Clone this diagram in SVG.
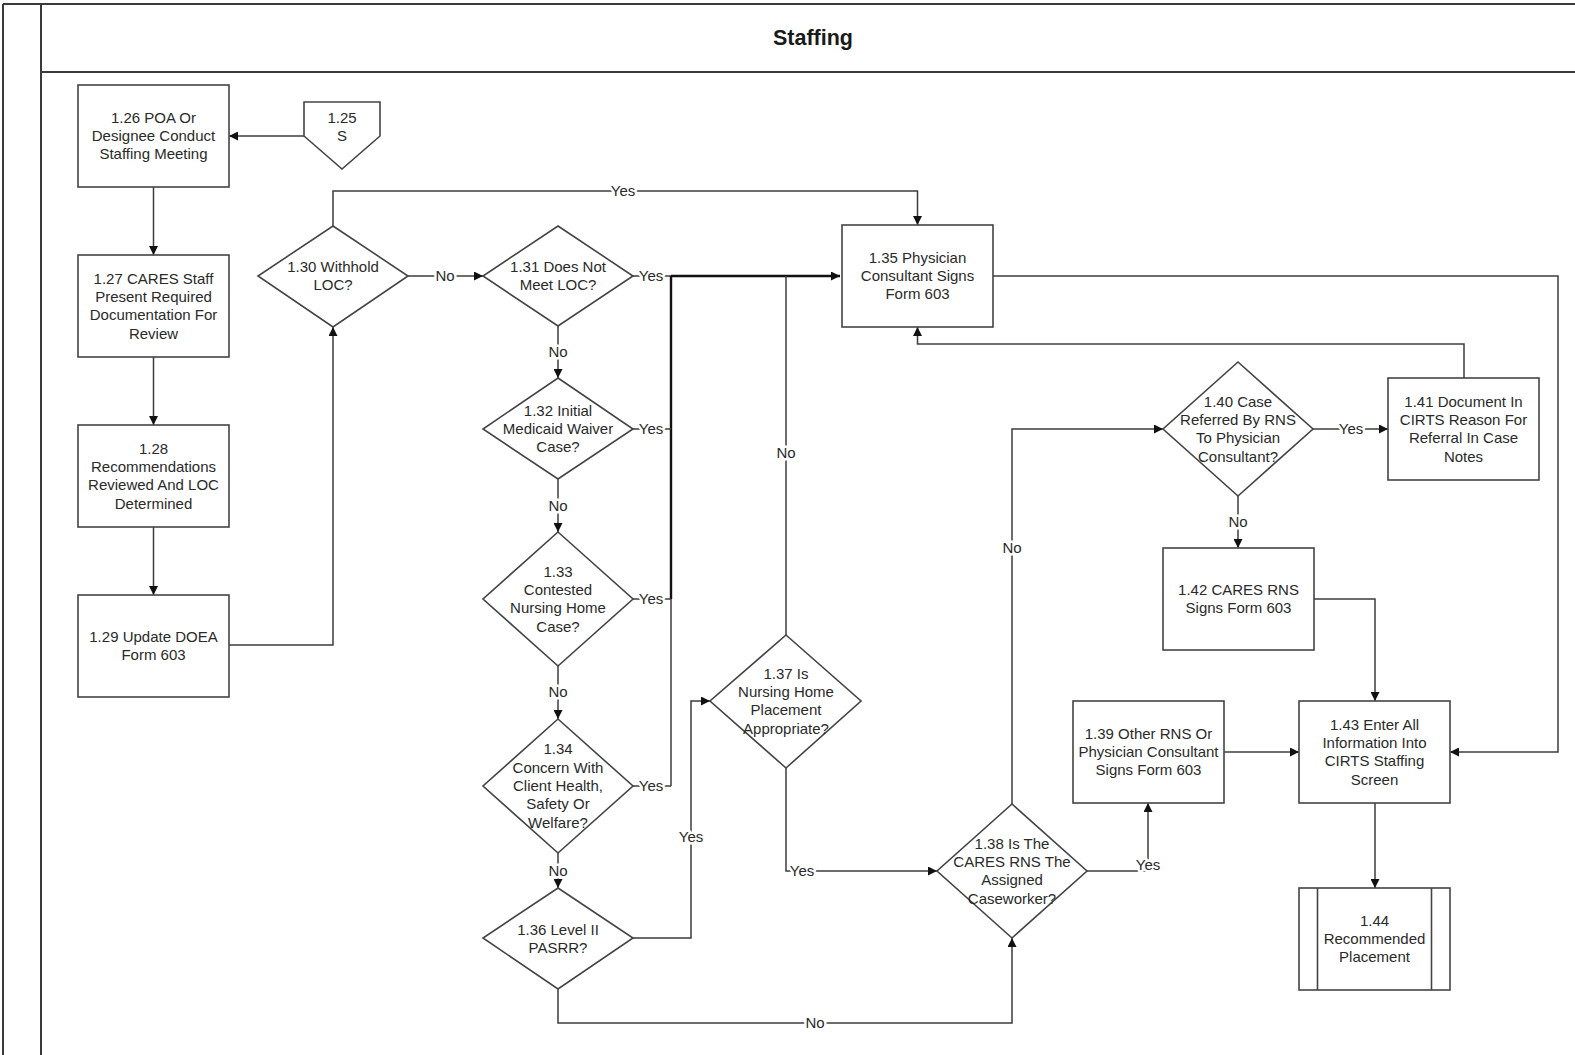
<svg xmlns="http://www.w3.org/2000/svg" width="1575" height="1055" viewBox="0 0 1575 1055">
<style>
.frame{fill:none;stroke:#3a3a3a;stroke-width:2}
.box{fill:#fff;stroke:#444;stroke-width:1.6}
.t{font-family:"Liberation Sans",Arial,sans-serif;font-size:15px;fill:#2a2a2a;text-anchor:middle}
.title{font-family:"Liberation Sans",Arial,sans-serif;font-size:21.5px;font-weight:bold;fill:#1a1a1a;text-anchor:middle}
.c{fill:none;stroke:#3c3c3c;stroke-width:1.5}
.ck{fill:none;stroke:#111;stroke-width:2.4}
.lbl{font-family:"Liberation Sans",Arial,sans-serif;font-size:15px;fill:#2a2a2a;text-anchor:middle;stroke:#fff;stroke-width:5;paint-order:stroke;stroke-linejoin:round}
</style>
<defs>
<marker id="arr" viewBox="0 0 10 10" refX="10" refY="5" markerWidth="9" markerHeight="9" markerUnits="userSpaceOnUse" orient="auto">
<path d="M0,0 L10,5 L0,10 z" fill="#111"/>
</marker>
</defs>
<rect width="1575" height="1055" fill="#fff"/>
<g id="frame">
<line class="frame" x1="3" y1="4" x2="1575" y2="4"/>
<line class="frame" x1="3" y1="4" x2="3" y2="1055"/>
<line class="frame" x1="41" y1="4" x2="41" y2="1055"/>
<line class="frame" x1="41" y1="72" x2="1575" y2="72"/>
<text class="title" x="813" y="45">Staffing</text>
</g>
<g id="connectors">
<path class="c" d="M304,136 L229,136" marker-end="url(#arr)"/>
<path class="c" d="M153.5,187 L153.5,255" marker-end="url(#arr)"/>
<path class="c" d="M153.5,357 L153.5,425" marker-end="url(#arr)"/>
<path class="c" d="M153.5,527 L153.5,595" marker-end="url(#arr)"/>
<path class="c" d="M229,645 L333,645 L333,327" marker-end="url(#arr)"/>
<path class="c" d="M407,276 L483,276" marker-end="url(#arr)"/>
<path class="c" d="M333,226 L333,191 L917.5,191 L917.5,225" marker-end="url(#arr)"/>
<path class="c" d="M633,276 L671,276"/>
<path class="ck" d="M671,276 L840,276" marker-end="url(#arr)"/>
<path class="ck" d="M671,276 L671,599"/>
<path class="c" d="M671,599 L671,786"/>
<path class="c" d="M633,429 L671,429"/>
<path class="c" d="M633,599 L671,599"/>
<path class="c" d="M633,786 L671,786"/>
<path class="c" d="M558,326 L558,378" marker-end="url(#arr)"/>
<path class="c" d="M558,479 L558,532" marker-end="url(#arr)"/>
<path class="c" d="M558,666 L558,719" marker-end="url(#arr)"/>
<path class="c" d="M558,853 L558,888" marker-end="url(#arr)"/>
<path class="c" d="M633,938 L691,938 L691,701 L710,701" marker-end="url(#arr)"/>
<path class="c" d="M558,989 L558,1023 L1012,1023 L1012,938" marker-end="url(#arr)"/>
<path class="c" d="M786,635 L786,276"/>
<path class="c" d="M786,768 L786,871 L937,871" marker-end="url(#arr)"/>
<path class="c" d="M1087,871 L1148,871 L1148,803" marker-end="url(#arr)"/>
<path class="c" d="M1012,804 L1012,429 L1163,429" marker-end="url(#arr)"/>
<path class="c" d="M1313,429 L1388,429" marker-end="url(#arr)"/>
<path class="c" d="M1238,496 L1238,548" marker-end="url(#arr)"/>
<path class="c" d="M1464,378 L1464,344 L917.5,344 L917.5,327" marker-end="url(#arr)"/>
<path class="c" d="M993,276 L1558,276 L1558,752 L1450,752" marker-end="url(#arr)"/>
<path class="c" d="M1314,599 L1375,599 L1375,701" marker-end="url(#arr)"/>
<path class="c" d="M1224,752 L1299,752" marker-end="url(#arr)"/>
<path class="c" d="M1375,803 L1375,888" marker-end="url(#arr)"/>
<text class="lbl" x="445" y="281">No</text>
<text class="lbl" x="623" y="196">Yes</text>
<text class="lbl" x="651" y="281">Yes</text>
<text class="lbl" x="651" y="434">Yes</text>
<text class="lbl" x="651" y="604">Yes</text>
<text class="lbl" x="651" y="791">Yes</text>
<text class="lbl" x="558" y="357">No</text>
<text class="lbl" x="558" y="511">No</text>
<text class="lbl" x="558" y="697">No</text>
<text class="lbl" x="558" y="876">No</text>
<text class="lbl" x="691" y="842">Yes</text>
<text class="lbl" x="786" y="458">No</text>
<text class="lbl" x="802" y="876">Yes</text>
<text class="lbl" x="815" y="1028">No</text>
<text class="lbl" x="1012" y="553">No</text>
<text class="lbl" x="1351" y="434">Yes</text>
<text class="lbl" x="1238" y="527">No</text>
<text class="lbl" x="1148" y="870">Yes</text>
</g>
<g id="n125">
<polygon class="box" points="304,102 380,102 380,136 342,169 304,136"/>
<text class="t"><tspan x="342" y="123">1.25</tspan><tspan x="342" y="141">S</tspan></text>
</g>
<g id="n126">
<rect class="box" x="78" y="85" width="151" height="102"/>
<text class="t"><tspan x="153.5" y="122.7">1.26 POA Or</tspan><tspan x="153.5" y="141">Designee Conduct</tspan><tspan x="153.5" y="159.3">Staffing Meeting</tspan></text>
</g>
<g id="n127">
<rect class="box" x="78" y="255" width="151" height="102"/>
<text class="t"><tspan x="153.5" y="283.5">1.27 CARES Staff</tspan><tspan x="153.5" y="301.9">Present Required</tspan><tspan x="153.5" y="320.2">Documentation For</tspan><tspan x="153.5" y="338.5">Review</tspan></text>
</g>
<g id="n128">
<rect class="box" x="78" y="425" width="151" height="102"/>
<text class="t"><tspan x="153.5" y="453.5">1.28</tspan><tspan x="153.5" y="471.9">Recommendations</tspan><tspan x="153.5" y="490.2">Reviewed And LOC</tspan><tspan x="153.5" y="508.5">Determined</tspan></text>
</g>
<g id="n129">
<rect class="box" x="78" y="595" width="151" height="102"/>
<text class="t"><tspan x="153.5" y="641.9">1.29 Update DOEA</tspan><tspan x="153.5" y="660.2">Form 603</tspan></text>
</g>
<g id="n130">
<polygon class="box" points="333,226 408,276 333,327 258,276"/>
<text class="t"><tspan x="333" y="271.9">1.30 Withhold</tspan><tspan x="333" y="290.2">LOC?</tspan></text>
</g>
<g id="n131">
<polygon class="box" points="558,226 633,276 558,326 483,276"/>
<text class="t"><tspan x="558" y="271.9">1.31 Does Not</tspan><tspan x="558" y="290.2">Meet LOC?</tspan></text>
</g>
<g id="n132">
<polygon class="box" points="558,378 633,429 558,479 483,429"/>
<text class="t"><tspan x="558" y="415.7">1.32 Initial</tspan><tspan x="558" y="434">Medicaid Waiver</tspan><tspan x="558" y="452.3">Case?</tspan></text>
</g>
<g id="n133">
<polygon class="box" points="558,532 633,599 558,666 483,599"/>
<text class="t"><tspan x="558" y="576.5">1.33</tspan><tspan x="558" y="594.9">Contested</tspan><tspan x="558" y="613.2">Nursing Home</tspan><tspan x="558" y="631.5">Case?</tspan></text>
</g>
<g id="n134">
<polygon class="box" points="558,719 633,786 558,853 483,786"/>
<text class="t"><tspan x="558" y="754.4">1.34</tspan><tspan x="558" y="772.7">Concern With</tspan><tspan x="558" y="791">Client Health,</tspan><tspan x="558" y="809.3">Safety Or</tspan><tspan x="558" y="827.6">Welfare?</tspan></text>
</g>
<g id="n136">
<polygon class="box" points="558,888 633,938 558,989 483,938"/>
<text class="t"><tspan x="558" y="934.9">1.36 Level II</tspan><tspan x="558" y="953.2">PASRR?</tspan></text>
</g>
<g id="n137">
<polygon class="box" points="786,635 861,701 786,768 710,701"/>
<text class="t"><tspan x="786" y="678.5">1.37 Is</tspan><tspan x="786" y="696.9">Nursing Home</tspan><tspan x="786" y="715.2">Placement</tspan><tspan x="786" y="733.5">Appropriate?</tspan></text>
</g>
<g id="n135">
<rect class="box" x="842" y="225" width="151" height="102"/>
<text class="t"><tspan x="917.5" y="262.7">1.35 Physician</tspan><tspan x="917.5" y="281">Consultant Signs</tspan><tspan x="917.5" y="299.3">Form 603</tspan></text>
</g>
<g id="n138">
<polygon class="box" points="1012,804 1087,871 1012,938 937,871"/>
<text class="t"><tspan x="1012" y="848.5">1.38 Is The</tspan><tspan x="1012" y="866.9">CARES RNS The</tspan><tspan x="1012" y="885.2">Assigned</tspan><tspan x="1012" y="903.5">Caseworker?</tspan></text>
</g>
<g id="n139">
<rect class="box" x="1073" y="701" width="151" height="102"/>
<text class="t"><tspan x="1148.5" y="738.7">1.39 Other RNS Or</tspan><tspan x="1148.5" y="757">Physician Consultant</tspan><tspan x="1148.5" y="775.3">Signs Form 603</tspan></text>
</g>
<g id="n140">
<polygon class="box" points="1238,362 1313,429 1238,496 1163,429"/>
<text class="t"><tspan x="1238" y="406.5">1.40 Case</tspan><tspan x="1238" y="424.9">Referred By RNS</tspan><tspan x="1238" y="443.2">To Physician</tspan><tspan x="1238" y="461.5">Consultant?</tspan></text>
</g>
<g id="n141">
<rect class="box" x="1388" y="378" width="151" height="102"/>
<text class="t"><tspan x="1463.5" y="406.5">1.41 Document In</tspan><tspan x="1463.5" y="424.9">CIRTS Reason For</tspan><tspan x="1463.5" y="443.2">Referral In Case</tspan><tspan x="1463.5" y="461.5">Notes</tspan></text>
</g>
<g id="n142">
<rect class="box" x="1163" y="548" width="151" height="102"/>
<text class="t"><tspan x="1238.5" y="594.9">1.42 CARES RNS</tspan><tspan x="1238.5" y="613.2">Signs Form 603</tspan></text>
</g>
<g id="n143">
<rect class="box" x="1299" y="701" width="151" height="102"/>
<text class="t"><tspan x="1374.5" y="729.5">1.43 Enter All</tspan><tspan x="1374.5" y="747.9">Information Into</tspan><tspan x="1374.5" y="766.2">CIRTS Staffing</tspan><tspan x="1374.5" y="784.5">Screen</tspan></text>
</g>
<g id="n144">
<rect class="box" x="1299" y="888" width="151" height="102"/>
<line class="box" x1="1317.5" y1="888" x2="1317.5" y2="990"/>
<line class="box" x1="1431.5" y1="888" x2="1431.5" y2="990"/>
<text class="t"><tspan x="1374.5" y="925.7">1.44</tspan><tspan x="1374.5" y="944">Recommended</tspan><tspan x="1374.5" y="962.3">Placement</tspan></text>
</g>
</svg>
